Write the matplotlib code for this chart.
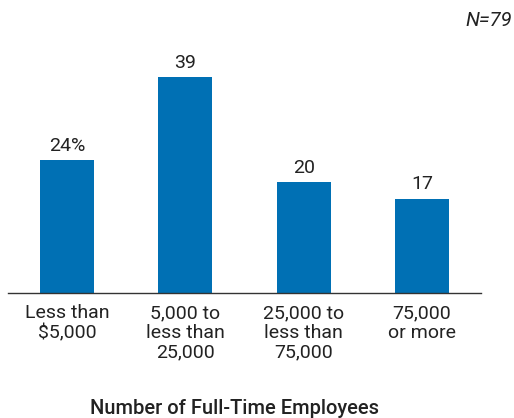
import numpy as np
import matplotlib.pyplot as plt

plt.rcParams['font.family'] = ['Roboto', 'DejaVu Sans']

categories = ["Less than\n$5,000", "5,000 to\nless than\n25,000",
              "25,000 to\nless than\n75,000", "75,000\nor more"]
values = [24, 39, 20, 17]
value_labels = ["24%", "39", "20", "17"]

fig = plt.figure(figsize=(5.14, 4.18), dpi=100)
ax = fig.add_axes([8/514, 125/418, 473/514, 249/418])

x = np.arange(len(categories))
bars = ax.bar(x, values, width=0.456, color='#0070b4')

for xi, v, lab in zip(x, values, value_labels):
    ax.text(xi, v + 1.0, lab, ha='center', va='bottom', fontsize=14, color='#222222')

ax.set_xlim(-0.5, 3.5)
ax.set_ylim(0, 45)
ax.set_yticks([])
ax.set_xticks(x)
ax.set_xticklabels(categories, fontsize=14, color='#222222', linespacing=1.13)
ax.tick_params(axis='x', length=0, pad=8)
for s in ['top', 'right', 'left']:
    ax.spines[s].set_visible(False)
ax.spines['bottom'].set_color('#333333')
ax.spines['bottom'].set_linewidth(1.0)

fig.text(235/514, 10/418, "Number of Full-Time Employees", ha='center', va='center',
         fontsize=14.5, fontweight='medium', color='#222222')
fig.text(512/514, 1 - 20/418, "N=79", ha='right', va='center',
         fontsize=14.5, style='italic', color='#222222')

fig.savefig('out.png', dpi=100)
